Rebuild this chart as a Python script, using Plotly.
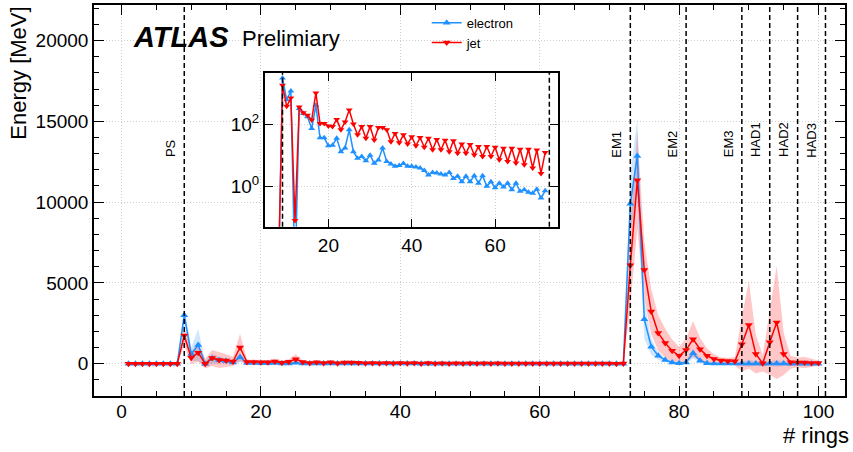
import numpy as np
import plotly.graph_objects as go

# ---------------- data ----------------
rings = list(range(1, 101))

electron_mean = [
    0, 0, 0, 0, 0, 0, 0, 0,
    3000, 600, 1150, -20, 316, 218, 170, 72, 400, 36, 36, 20, 21, 35, 13, 17, 65, 13,
    8, 9, 6.6, 10, 5.5, 7, 17, 6.3, 5.2, 4.4, 4.7, 5.4, 4.4, 4.4, 4.2, 3.9, 3.2, 2.3,
    2.8, 2.7, 2.5, 2.3, 2.8, 1.8, 2.1, 1.4, 2.1, 1.4, 2.2, 1.26, 2.2, 1.0, 1.4, 0.9,
    1.26, 0.95, 1.26, 0.78, 1.26, 0.69, 0.78, 0.65, 0.6, 0.81, 0.42, 0.72,
    9900, 12850, 2750, 1050, 490, 230, 80, 30,
    80, 640, 185, 30, 15, 10, 8, 6,
    10, 12, 5, 3,
    8, 10, 4, 2,
    3, 2, 1, 1,
]
electron_std = [
    10, 10, 10, 10, 10, 10, 10, 10,
    500, 400, 1000, 150, 300, 200, 150, 100, 300, 60, 60, 60, 60, 60, 60, 60, 100, 40,
    40, 40, 40, 40, 40, 40, 40, 40, 40, 40, 40, 40, 40, 40, 20, 20, 20, 20,
    20, 20, 20, 20, 20, 20, 20, 20, 20, 20, 20, 20, 20, 20, 20, 20,
    20, 20, 20, 20, 20, 20, 20, 20, 20, 20, 20, 20,
    1800, 2300, 1200, 500, 250, 120, 60, 40,
    100, 300, 150, 60, 60, 60, 60, 80,
    150, 200, 150, 120,
    150, 200, 150, 100,
    80, 80, 60, 60,
]
jet_mean = [
    0, 0, 0, 0, 0, 0, 0, 0,
    1750, 370, 680, 0.08, 350, 230, 190, 135, 1000, 105, 105, 87, 83, 141, 65, 117, 282, 100,
    45, 83, 35, 83, 31, 78, 78, 65, 27, 50, 25, 45, 23, 39, 20, 37, 18, 35,
    15, 32, 15, 30, 13, 29, 11.5, 23, 11.5, 22, 10.2, 19, 9.1, 19, 9.1, 18,
    7.1, 16.6, 6.3, 16.6, 5.6, 15.5, 4.9, 15.5, 3.9, 14.8, 2.6, 12.3,
    6100, 11350, 5800, 3230, 1900, 1280, 800, 490,
    840, 1520, 900, 490, 290, 190, 160, 150,
    1210, 2400, 600, 20,
    1320, 2550, 600, 90,
    80, 70, 50, 40,
]
jet_std = [
    10, 10, 10, 10, 10, 10, 10, 10,
    600, 400, 550, 300, 500, 500, 400, 300, 850, 150, 150, 150, 150, 150, 150, 150, 300, 100,
    100, 100, 100, 100, 100, 100, 100, 100, 100, 100, 100, 100, 100, 100, 60, 60, 60, 60,
    60, 60, 60, 60, 60, 60, 60, 60, 60, 60, 60, 60, 60, 60, 60, 60,
    60, 60, 60, 60, 60, 60, 60, 60, 60, 60, 60, 60,
    2500, 3000, 1800, 1400, 1100, 900, 700, 550,
    700, 1100, 700, 450, 300, 200, 200, 250,
    1700, 2700, 1200, 500,
    2000, 3500, 1300, 400,
    300, 350, 250, 150,
]

layer_edges = [9, 73, 81, 89, 93, 97, 101]
layer_names = ["PS", "EM1", "EM2", "EM3", "HAD1", "HAD2", "HAD3"]

x_ticks_main = [0, 20, 40, 60, 80, 100]
y_ticks_main = [0, 5000, 10000, 15000, 20000]
x_ticks_inset = [20, 40, 60]
y_ticks_inset = [1, 100]
y_ticktext_inset = ["10<sup>0</sup>", "10<sup>2</sup>"]
inset_first_ring, inset_last_ring = 8, 72
inset_edges = [9, 73]

# ---------------- style ----------------
BLUE = "#1E90FF"
RED = "#FF0000"
FONT = "Liberation Sans"

fig = go.Figure()


def band(m, s, color):
    up = [a + b for a, b in zip(m, s)]
    lo = [a - b for a, b in zip(m, s)]
    return go.Scatter(x=rings + rings[::-1], y=up + lo[::-1], fill="toself",
                      fillcolor=color, line=dict(width=0), mode="lines",
                      hoverinfo="skip", showlegend=False, xaxis="x", yaxis="y")


fig.add_trace(band(electron_mean, electron_std, "rgba(30,144,255,0.22)"))
fig.add_trace(band(jet_mean, jet_std, "rgba(255,0,0,0.22)"))

fig.add_trace(go.Scatter(x=rings, y=electron_mean, mode="lines+markers", name="electron",
                         line=dict(color=BLUE, width=1.5),
                         marker=dict(symbol="triangle-up", size=7, color=BLUE),
                         xaxis="x", yaxis="y"))
fig.add_trace(go.Scatter(x=rings, y=jet_mean, mode="lines+markers", name="jet",
                         line=dict(color=RED, width=1.5),
                         marker=dict(symbol="triangle-down", size=7, color=RED),
                         xaxis="x", yaxis="y"))

# inset (log scale), non-positive values clipped below the visible range
i0, i1 = inset_first_ring - 1, inset_last_ring
ins_x = rings[i0:i1]
ins_e = list(np.clip(np.array(electron_mean[i0:i1], dtype=float), 1e-3, None))
ins_j = list(np.clip(np.array(jet_mean[i0:i1], dtype=float), 1e-3, None))
fig.add_trace(go.Scatter(x=ins_x, y=ins_e, mode="lines+markers", showlegend=False,
                         line=dict(color=BLUE, width=1.5),
                         marker=dict(symbol="triangle-up", size=6, color=BLUE),
                         xaxis="x2", yaxis="y2"))
fig.add_trace(go.Scatter(x=ins_x, y=ins_j, mode="lines+markers", showlegend=False,
                         line=dict(color=RED, width=1.5),
                         marker=dict(symbol="triangle-down", size=6, color=RED),
                         xaxis="x2", yaxis="y2"))

shapes = []
shapes.append(dict(type="rect", xref="x2 domain", yref="y2 domain", x0=0, x1=1, y0=0, y1=1,
                   fillcolor="white", line=dict(width=0), layer="below"))
for e in layer_edges:
    shapes.append(dict(type="line", xref="x", yref="y domain", x0=e, x1=e, y0=0, y1=1,
                       line=dict(color="black", width=1.5, dash="5px,3px"), layer="above"))
for e in inset_edges:
    shapes.append(dict(type="line", xref="x2", yref="y2 domain", x0=e, x1=e, y0=0, y1=1,
                       line=dict(color="black", width=1.5, dash="5px,3px"), layer="above"))

annotations = []
for e, n in zip(layer_edges, layer_names):
    annotations.append(dict(x=e, y=12650, xref="x", yref="y", text=n, textangle=-90,
                            showarrow=False, xanchor="right", yanchor="bottom", xshift=-4,
                            font=dict(family=FONT, size=13, color="black")))
annotations.append(dict(x=0.049, y=0.919, xref="paper", yref="paper",
                        text="<b><i>ATLAS</i></b>", showarrow=False,
                        xanchor="left", yanchor="middle",
                        font=dict(family=FONT, size=29, color="black")))
annotations.append(dict(x=0.194, y=0.914, xref="paper", yref="paper",
                        text="Prelimiary", showarrow=False,
                        xanchor="left", yanchor="middle",
                        font=dict(family=FONT, size=22, color="black")))
annotations.append(dict(x=-0.101, y=1, xref="paper", yref="paper", text="Energy [MeV]",
                        textangle=-90, showarrow=False, xanchor="center", yanchor="top",
                        font=dict(family=FONT, size=22, color="black")))
annotations.append(dict(x=1, y=-0.1, xref="paper", yref="paper", text="# rings",
                        showarrow=False, xanchor="right", yanchor="middle", xshift=6,
                        font=dict(family=FONT, size=22, color="black")))

common_axis = dict(ticks="inside", mirror="allticks", showline=True, linecolor="black",
                   tickcolor="black", showgrid=True, gridcolor="#cfcfcf", griddash="1px,2px",
                   gridwidth=1, zeroline=False, tickformat="d",
                   tickfont=dict(family=FONT, size=19, color="black"))

fig.update_layout(
    width=853, height=452,
    margin=dict(l=94, r=8, t=3, b=56),
    plot_bgcolor="white", paper_bgcolor="white",
    font=dict(family=FONT, color="black"),
    xaxis=dict(domain=[0, 1], range=[-3.95, 103.8], tickvals=x_ticks_main, ticklen=10,
               tickwidth=1.2, linewidth=1.5, anchor="y", ticklabelstandoff=-3,
               minor=dict(dtick=5, tick0=0, ticklen=5, ticks="inside", tickcolor="black",
                          showgrid=False),
               **common_axis),
    yaxis=dict(domain=[0, 1], range=[-2000, 22200], tickvals=y_ticks_main, ticklen=10,
               tickwidth=1.2, linewidth=1.5, anchor="x",
               minor=dict(dtick=1000, tick0=0, ticklen=5, ticks="inside", tickcolor="black",
                          showgrid=False),
               **common_axis),
    xaxis2=dict(domain=[0.2277, 0.6174], range=[4.8, 75], tickvals=x_ticks_inset, ticklen=8,
                tickwidth=1.2, linewidth=2, anchor="y2", **common_axis),
    yaxis2=dict(domain=[0.4326, 0.827], type="log", range=[-1.3, 3.65],
                tickvals=y_ticks_inset, ticktext=y_ticktext_inset, ticklen=8,
                tickwidth=1.2, linewidth=2, anchor="x2", **common_axis),
    shapes=shapes,
    annotations=annotations,
    showlegend=True,
    legend=dict(x=0.443, y=0.993, xanchor="left", yanchor="top", bgcolor="rgba(0,0,0,0)",
                font=dict(family=FONT, size=13, color="black"), itemwidth=30,
                tracegroupgap=0),
)

fig.write_html("out.html")
